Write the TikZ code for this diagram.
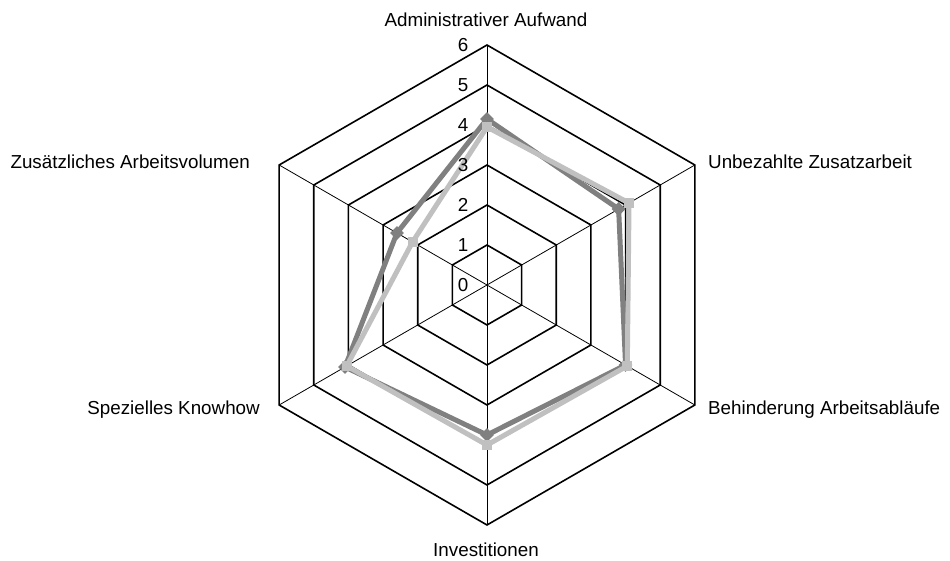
\documentclass[tikz,border=0pt]{standalone}
\usepackage{fontspec}
\setmainfont{Liberation Sans}
\usetikzlibrary{shapes.geometric}
\definecolor{serA}{RGB}{128,128,128}
\definecolor{serB}{RGB}{192,192,192}
\begin{document}
\begin{tikzpicture}[x=1pt,y=1pt,
  ring/.style={line width=1.6pt, line join=miter},
  spoke/.style={line width=0.8pt},
  axlabel/.style={font=\fontsize{18.8}{22}\selectfont, inner sep=0pt},
  ticklabel/.style={font=\fontsize{18.8}{22}\selectfont, inner sep=0pt, anchor=base east},
  serline/.style={line width=5pt, line join=round},
  dmark/.style={diamond, fill=serA, inner sep=0pt, minimum size=14pt},
  smark/.style={rectangle, fill=serB, inner sep=0pt, minimum size=10pt}]
\useasboundingbox (0,0) rectangle (950,560);
\begin{scope}[shift={(487,275)}]
  \coordinate (C) at (0,0);
  \foreach \k in {0,...,5} \draw[spoke] (C) -- ({90-60*\k}:240);
  \foreach \r in {1,...,6}
    \draw[ring] (90:{40*\r}) -- (30:{40*\r}) -- (-30:{40*\r}) -- (-90:{40*\r}) -- (-150:{40*\r}) -- (150:{40*\r}) -- cycle;
  \foreach \v [count=\i from 0] in {4.15,3.8,4.0,3.75,4.1,2.6}
    \coordinate (a\i) at ({90-60*\i}:{40*\v});
  \foreach \v [count=\i from 0] in {3.95,4.1,4.05,4.0,4.05,2.15}
    \coordinate (b\i) at ({90-60*\i}:{40*\v});
\end{scope}
\draw[serline, serA] (a0) -- (a1) -- (a2) -- (a3) -- (a4) -- (a5) -- cycle;
\foreach \i in {0,...,5} \node[dmark] (ma\i) at (a\i) {};
\draw[serline, serB] (b0) -- (b1) -- (b2) -- (b3) -- (b4) -- (b5) -- cycle;
\foreach \i in {0,...,5} \node[smark] (mb\i) at (b\i) {};
\foreach \t in {0,...,6} \node[ticklabel] (t\t) at (468.5, {275+40*\t-6.6}) {\t};
\node[axlabel, anchor=base] (l0) at (486, 533.3) {Administrativer Aufwand};
\node[axlabel, anchor=base west] (l1) at (708, 391.7) {Unbezahlte Zusatzarbeit};
\node[axlabel, anchor=base west] (l2) at (708, 145.5) {Behinderung Arbeitsabläufe};
\node[axlabel, anchor=base] (l3) at (486, 4) {Investitionen};
\node[axlabel, anchor=base east] (l4) at (260, 145.5) {Spezielles Knowhow};
\node[axlabel, anchor=base east] (l5) at (250, 391.7) {Zusätzliches Arbeitsvolumen};
\end{tikzpicture}
\end{document}
